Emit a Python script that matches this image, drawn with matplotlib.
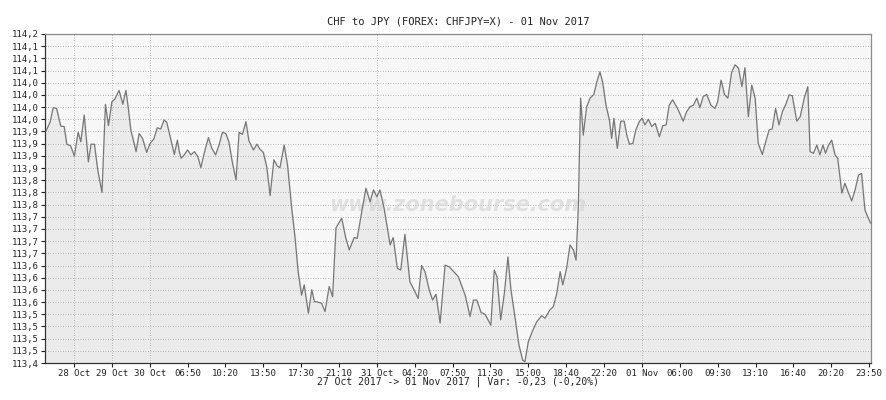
import matplotlib.pyplot as plt
import numpy as np

# position on the chart's compressed time axis (1 unit = one tick step)
slot = [-0.74, -0.63, -0.55, -0.46, -0.35, -0.26, -0.19, -0.09, 0.01, 0.11,
        0.18, 0.27, 0.38, 0.45, 0.54, 0.63, 0.74, 0.83, 0.91, 1.00,
        1.08, 1.19, 1.29, 1.37, 1.43, 1.50, 1.64, 1.72, 1.81, 1.92,
        2.01, 2.11, 2.20, 2.29, 2.38, 2.45, 2.55, 2.65, 2.73, 2.78,
        2.83, 2.91, 3.00, 3.09, 3.18, 3.27, 3.35, 3.46, 3.55, 3.64,
        3.74, 3.83, 3.92, 4.01, 4.09, 4.18, 4.28, 4.36, 4.45, 4.54,
        4.62, 4.74, 4.83, 4.91, 5.00, 5.09, 5.18, 5.28, 5.37, 5.44,
        5.55, 5.64, 5.75, 5.84, 5.92, 6.01, 6.08, 6.19, 6.28, 6.35,
        6.41, 6.54, 6.63, 6.74, 6.83, 6.92, 7.07, 7.18, 7.27, 7.40,
        7.48, 7.60, 7.71, 7.82, 7.91, 8.00, 8.08, 8.19, 8.35, 8.43,
        8.54, 8.63, 8.74, 8.87, 8.98, 9.09, 9.18, 9.27, 9.38, 9.47,
        9.56, 9.67, 9.80, 9.91, 10.15, 10.33, 10.46, 10.55, 10.64, 10.75,
        10.86, 11.01, 11.10, 11.17, 11.27, 11.37, 11.46, 11.54, 11.65, 11.75,
        11.85, 11.91, 12.00, 12.11, 12.22, 12.35, 12.44, 12.57, 12.66, 12.75,
        12.84, 12.91, 13.01, 13.10, 13.19, 13.26, 13.32, 13.38, 13.45, 13.54,
        13.63, 13.73, 13.81, 13.89, 13.96, 14.05, 14.14, 14.20, 14.26, 14.35,
        14.44, 14.53, 14.60, 14.67, 14.76, 14.84, 14.93, 15.00, 15.08, 15.17,
        15.26, 15.35, 15.46, 15.55, 15.64, 15.72, 15.81, 15.94, 16.09, 16.18,
        16.27, 16.36, 16.45, 16.53, 16.62, 16.71, 16.82, 16.93, 17.00, 17.09,
        17.18, 17.27, 17.37, 17.46, 17.55, 17.64, 17.72, 17.81, 17.90, 17.99,
        18.07, 18.18, 18.27, 18.36, 18.44, 18.53, 18.62, 18.71, 18.80, 18.89,
        18.97, 19.09, 19.18, 19.29, 19.38, 19.44, 19.53, 19.62, 19.70, 19.78,
        19.85, 19.92, 20.01, 20.10, 20.17, 20.28, 20.36, 20.45, 20.54, 20.63,
        20.72, 20.80, 20.89, 20.98, 21.04]

price = [113.964, 113.986, 114.021, 114.019, 113.976, 113.975, 113.932, 113.928, 113.903, 113.961,
         113.938, 114.003, 113.889, 113.932, 113.932, 113.867, 113.815, 114.029, 113.977, 114.035,
         114.042, 114.063, 114.029, 114.063, 114.023, 113.967, 113.914, 113.958, 113.946, 113.912,
         113.934, 113.945, 113.972, 113.969, 113.991, 113.985, 113.946, 113.907, 113.942, 113.914,
         113.898, 113.906, 113.918, 113.906, 113.914, 113.902, 113.875, 113.918, 113.948, 113.922,
         113.906, 113.930, 113.961, 113.958, 113.938, 113.889, 113.845, 113.961, 113.956, 113.987,
         113.940, 113.918, 113.932, 113.920, 113.912, 113.877, 113.807, 113.894, 113.879, 113.875,
         113.930, 113.881, 113.776, 113.703, 113.622, 113.565, 113.590, 113.521, 113.578, 113.549,
         113.549, 113.545, 113.525, 113.586, 113.561, 113.729, 113.752, 113.703, 113.675, 113.705,
         113.703, 113.768, 113.825, 113.792, 113.821, 113.804, 113.821, 113.776, 113.687, 113.705,
         113.630, 113.626, 113.713, 113.598, 113.578, 113.557, 113.637, 113.622, 113.578, 113.553,
         113.567, 113.497, 113.638, 113.634, 113.610, 113.565, 113.513, 113.553, 113.553, 113.523,
         113.518, 113.492, 113.626, 113.610, 113.505, 113.572, 113.658, 113.578, 113.509, 113.444,
         113.407, 113.403, 113.452, 113.478, 113.500, 113.515, 113.509, 113.529, 113.537, 113.569,
         113.622, 113.590, 113.630, 113.687, 113.675, 113.650, 113.780, 114.044, 113.954, 114.023,
         114.044, 114.053, 114.084, 114.108, 114.084, 114.027, 113.991, 113.946, 113.995, 113.922,
         113.988, 113.988, 113.954, 113.932, 113.934, 113.967, 113.987, 113.995, 113.979, 113.993,
         113.975, 113.983, 113.950, 113.977, 113.979, 114.027, 114.040, 114.019, 113.988, 114.011,
         114.023, 114.027, 114.044, 114.021, 114.048, 114.053, 114.027, 114.019, 114.035, 114.088,
         114.053, 114.044, 114.107, 114.125, 114.117, 114.072, 114.118, 113.999, 114.076, 114.044,
         113.934, 113.907, 113.938, 113.967, 113.969, 114.019, 113.979, 114.011, 114.029, 114.052,
         114.050, 113.988, 113.999, 114.045, 114.072, 113.914, 113.910, 113.930, 113.906, 113.930,
         113.910, 113.928, 113.942, 113.906, 113.898, 113.813, 113.837, 113.815, 113.794, 113.821,
         113.857, 113.861, 113.772, 113.752, 113.740]

x_labels = ['28 Oct', '29 Oct', '30 Oct', '06:50', '10:20', '13:50', '17:30', '21:10',
            '31 Oct', '04:20', '07:50', '11:30', '15:00', '18:40', '22:20', '01 Nov',
            '06:00', '09:30', '13:10', '16:40', '20:20', '23:50']
day_slots = [0, 1, 2, 8, 15]

y_labels = ['114,2', '114,1', '114,1', '114,1', '114,0', '114,0', '114,0', '114,0',
            '113,9', '113,9', '113,9', '113,9', '113,8', '113,8', '113,8',
            '113,7', '113,7', '113,7', '113,7', '113,6', '113,6', '113,6', '113,6',
            '113,5', '113,5', '113,5', '113,5', '113,4']

y_min, y_max = 113.4, 114.2

plt.rcParams['font.family'] = 'DejaVu Sans Mono'

fig = plt.figure(figsize=(8.86, 4.0), dpi=100)
ax = fig.add_axes([45 / 886, 1 - 363 / 400, 826 / 886, 329 / 400])
ax.set_facecolor('#f7f7f7')

ax.fill_between(slot, price, y_min, color='#ebebeb', zorder=1)
ax.plot(slot, price, color='#777777', linewidth=0.9, zorder=3)

ax.set_xlim(-0.766, 21.05)
ax.set_ylim(y_min, y_max)

yt = np.linspace(y_max, y_min, len(y_labels))
ax.set_yticks(yt)
ax.set_yticklabels(y_labels)
ax.set_xticks(range(len(x_labels)))
ax.set_xticklabels(x_labels)
ax.tick_params(labelsize=6.5, length=3, width=0.8, colors='#222222', pad=1.5)

for y in yt[1:-1]:
    ax.axhline(y, color='#a5a5a5', linestyle=(0, (1, 2)), linewidth=0.6, zorder=2)
for d in day_slots:
    ax.axvline(d, color='#a5a5a5', linestyle=(0, (1, 2)), linewidth=0.6, zorder=2)

ax.spines['left'].set_color('#333333')
ax.spines['bottom'].set_color('#333333')
ax.spines['top'].set_color('#8c8c8c')
ax.spines['right'].set_color('#8c8c8c')
for s in ax.spines.values():
    s.set_linewidth(0.9)

ax.text(0.5, 0.48, 'www.zonebourse.com', transform=ax.transAxes, ha='center', va='center',
        fontsize=15, fontweight='bold', style='italic', family='DejaVu Sans',
        color='#d2d2d2', alpha=0.6, zorder=2)

fig.text(458 / 886, 1 - 21 / 400, 'CHF to JPY (FOREX: CHFJPY=X) - 01 Nov 2017',
         ha='center', va='center', fontsize=7.5, color='#222222')
fig.text(458 / 886, 1 - 382 / 400, '27 Oct 2017 -> 01 Nov 2017 | Var: -0,23 (-0,20%)',
         ha='center', va='center', fontsize=7, color='#222222')

fig.savefig('out.png', dpi=100)
